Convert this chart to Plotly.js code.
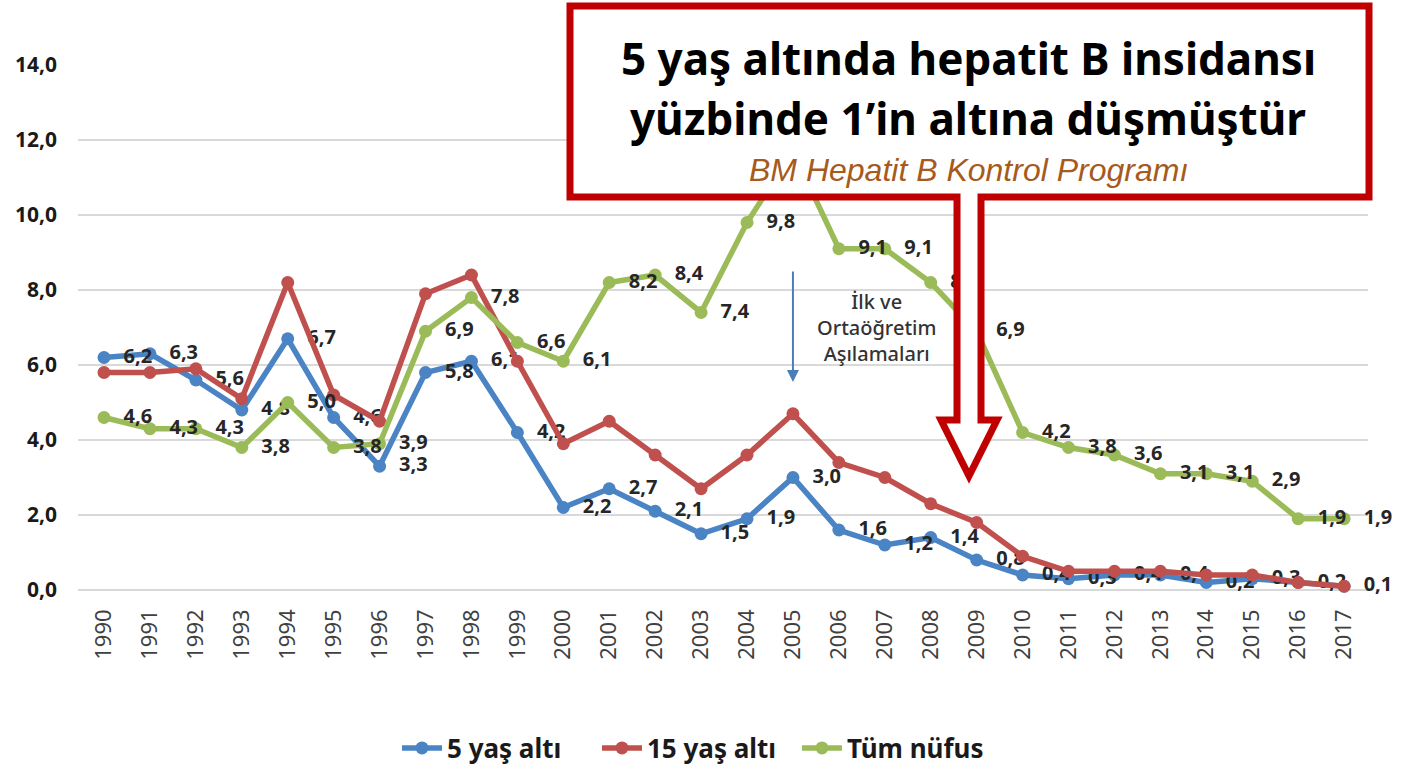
<!DOCTYPE html>
<html>
<head>
<meta charset="utf-8">
<script src="https://cdn.plot.ly/plotly-3.0.1.min.js"></script>
<style>
  html, body { margin: 0; padding: 0; background: #ffffff; }
  #chart { width: 1402px; height: 770px; }
</style>
</head>
<body>
<div id="chart"></div>
<script>
// ---- data ----
var years = [1990,1991,1992,1993,1994,1995,1996,1997,1998,1999,2000,2001,2002,2003,2004,2005,2006,2007,2008,2009,2010,2011,2012,2013,2014,2015,2016,2017];
var under5 = [6.2,6.3,5.6,4.8,6.7,4.6,3.3,5.8,6.1,4.2,2.2,2.7,2.1,1.5,1.9,3.0,1.6,1.2,1.4,0.8,0.4,0.3,0.4,0.4,0.2,0.3,0.2,0.1];
var under15 = [5.8,5.8,5.9,5.1,8.2,5.2,4.5,7.9,8.4,6.1,3.9,4.5,3.6,2.7,3.6,4.7,3.4,3.0,2.3,1.8,0.9,0.5,0.5,0.5,0.4,0.4,0.2,0.1];
var allPop = [4.6,4.3,4.3,3.8,5.0,3.8,3.9,6.9,7.8,6.6,6.1,8.2,8.4,7.4,9.8,11.7,9.1,9.1,8.2,6.9,4.2,3.8,3.6,3.1,3.1,2.9,1.9,1.9];
var seriesNames = ["5 yaş altı", "15 yaş altı", "Tüm nüfus"];
var yTicks = [0, 2, 4, 6, 8, 10, 12, 14];
var titleLine1 = "5 yaş altında hepatit B insidansı";
var titleLine2 = "yüzbinde 1’in altına düşmüştür";
var subtitle = "BM Hepatit B Kontrol Programı";
var noteText = "İlk ve<br>Ortaöğretim<br>Aşılamaları";
var noteYear = 2005;

// ---- styling ----
var FONT = "Noto Sans";
var blue = "#4a84c4", red = "#c0504d", green = "#9bbb59";

// plot-area pixel geometry (for placing decorations)
var L = 78, R = 1368, T = 65, B = 590;
function px(x) { return (x - L) / (R - L); }
function py(y) { return (B - y) / (B - T); }
function yval(y) { return (B - y) / (B - T) * 14; }

var labelFont = {family: FONT, size: 20, color: "#262626", weight: "bold"};
var pad = "\u00a0\u00a0";

function mkTrace(name, vals, color, labels) {
  var t = {
    type: "scatter", mode: labels ? "lines+markers+text" : "lines+markers",
    name: name, x: years, y: vals,
    line: {color: color, width: 5.5},
    marker: {color: color, size: 13},
    hoverinfo: "skip", cliponaxis: false
  };
  if (labels) {
    t.texttemplate = pad + "%{y:.1f}";
    t.textposition = "middle right";
    t.textfont = labelFont;
  }
  return t;
}

var traces = [
  mkTrace(seriesNames[0], under5, blue, true),
  mkTrace(seriesNames[1], under15, red, false),
  mkTrace(seriesNames[2], allPop, green, true)
];

// callout box with hollow down arrow
var pts = [[570,6],[1369,6],[1369,197],[981,197],[981,420],[997,420],[969,476],[941,420],[957,420],[957,197],[570,197]];
var path = pts.map(function(p, i){ return (i ? "L" : "M") + px(p[0]).toFixed(5) + "," + py(p[1]).toFixed(5); }).join(" ") + " Z";

var layout = {
  width: 1402, height: 770,
  margin: {l: L, r: 1402 - R, t: T, b: 770 - B, autoexpand: false},
  paper_bgcolor: "#ffffff", plot_bgcolor: "#ffffff",
  separators: ",.",
  showlegend: true,
  legend: {
    orientation: "h", x: px(697), xanchor: "center", y: py(748), yanchor: "middle",
    font: {family: FONT, size: 26, color: "#1a1a1a", weight: "bold"},
    itemwidth: 40, tracegroupgap: 0, entrywidth: 145, entrywidthmode: "pixels"
  },
  xaxis: {
    range: [1989.434, 2017.52], tickmode: "array", tickvals: years,
    ticktext: years.map(String), tickangle: -90,
    showgrid: false, zeroline: false, showline: false, ticks: "",
    ticklabelstandoff: 14,
    tickfont: {family: FONT, size: 22, color: "#404040"},
    fixedrange: true
  },
  yaxis: {
    range: [0, 14], tickmode: "array", tickvals: yTicks, tickformat: ".1f",
    showgrid: true, gridcolor: "#d9d9d9", gridwidth: 2,
    zeroline: true, zerolinecolor: "#d9d9d9", zerolinewidth: 2,
    showline: false, ticks: "", ticklabelstandoff: 20,
    tickfont: {family: FONT, size: 21, color: "#1a1a1a", weight: "bold"},
    fixedrange: true
  },
  shapes: [
    {type: "path", xref: "paper", yref: "paper", path: path, layer: "above",
     fillcolor: "#ffffff", line: {color: "#c00000", width: 7}}
  ],
  annotations: [
    {xref: "paper", yref: "paper", x: px(968), y: py(58), text: titleLine1, showarrow: false,
     xanchor: "center", yanchor: "middle", font: {family: FONT, size: 44, color: "#000000", weight: "bold"}},
    {xref: "paper", yref: "paper", x: px(968), y: py(118), text: titleLine2, showarrow: false,
     xanchor: "center", yanchor: "middle", font: {family: FONT, size: 44, color: "#000000", weight: "bold"}},
    {xref: "paper", yref: "paper", x: px(968), y: py(170), text: "<i>" + subtitle + "</i>", showarrow: false,
     xanchor: "center", yanchor: "middle", font: {family: "Liberation Sans", size: 32, color: "#a65a1c"}},
    {xref: "paper", yref: "paper", x: px(876), y: py(327), text: noteText, showarrow: false,
     xanchor: "center", yanchor: "middle", align: "center",
     font: {family: FONT, size: 20, color: "#333333", weight: 500}},
    {xref: "x", yref: "y", x: noteYear, y: yval(382), ax: noteYear, ay: yval(270),
     axref: "x", ayref: "y", text: "", showarrow: true, arrowhead: 2, arrowsize: 1.2,
     arrowwidth: 2, arrowcolor: "#4a7ebb", standoff: 0, startstandoff: 0}
  ]
};

Plotly.newPlot("chart", traces, layout, {displayModeBar: false, staticPlot: true});
</script>
</body>
</html>
